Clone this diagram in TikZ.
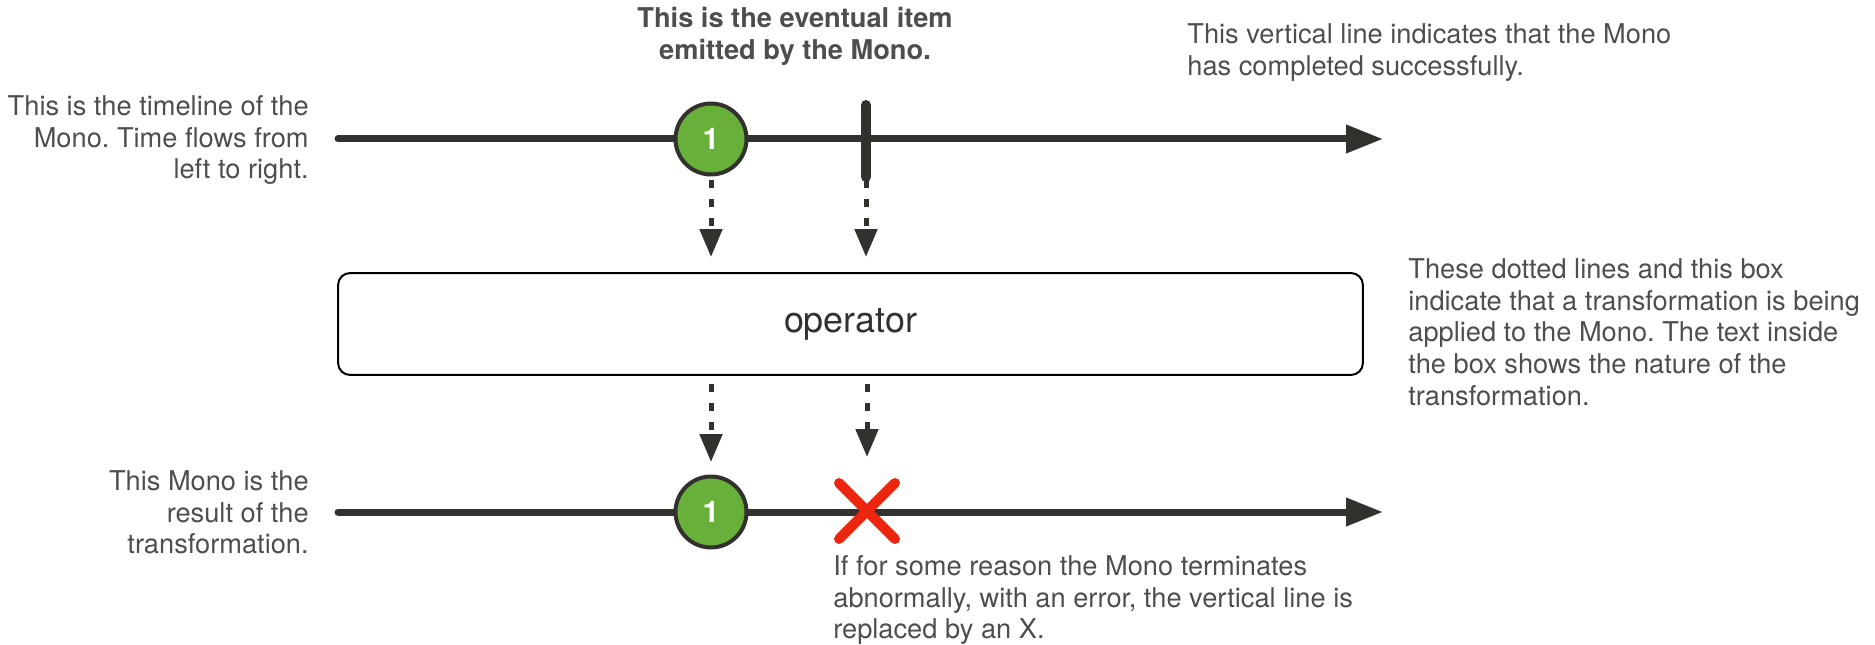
\documentclass[tikz,border=0pt]{standalone}
\usepackage{fontspec}
\setmainfont{TeX Gyre Heros}
\frenchspacing
\usetikzlibrary{arrows.meta, shapes.misc, positioning}
\definecolor{linegray}{RGB}{51,49,46}
\definecolor{notegray}{RGB}{78,78,78}
\definecolor{itemgreen}{RGB}{104,176,58}
\definecolor{errred}{RGB}{236,38,14}
\tikzstyle{timeline} = [line width=0.14cm, draw=linegray, line cap=round, -{Triangle[length=0.74cm, width=0.54cm]}]
\tikzstyle{item} = [circle, draw=linegray, fill=itemgreen, line width=0.08cm, minimum size=1.42cm, inner sep=0pt, text=white, font=\fontsize{17}{17}\selectfont\bfseries]
\tikzstyle{complete} = [line width=0.2cm, draw=linegray, line cap=round]
\tikzstyle{failure} = [cross out, draw=errred, line width=0.2cm, line cap=round, minimum size=0.92cm, inner sep=0pt]
\tikzstyle{opbox} = [rectangle, draw=black, line width=0.04cm, rounded corners=0.24cm, minimum width=20.5cm, minimum height=2.04cm, text=linegray, font=\fontsize{20.4}{20.4}\selectfont]
\tikzstyle{flow} = [line width=0.1cm, draw=linegray, dash pattern=on 0.16cm off 0.22cm, -{Triangle[length=0.56cm, width=0.44cm]}]
\tikzstyle{note} = [inner sep=0pt, text=notegray, font=\fontsize{15.5}{18.1}\selectfont]

\begin{document}
\begin{tikzpicture}[x=0.02cm, y=-0.02cm]
    \useasboundingbox (0,0) rectangle (1875,645);

    % Source timeline
    \coordinate (src_start) at (338,139);
    \coordinate (src_end) at (1383,139);
    \draw [timeline] (src_start) -- (src_end);
    \node (src_item) [item] at (711,139) {1};
    \draw [complete] (866,105) coordinate (done_top) -- (866,177) coordinate (done);

    % Operator
    \node (op) [opbox] at (850.5,324) {operator};

    % Result timeline
    \coordinate (res_start) at (338,512);
    \coordinate (res_end) at (1383,512);
    \draw [timeline] (res_start) -- (res_end);
    \node (res_item) [item] at (711,512) {1};
    \node (error) [failure] at (867,511) {};

    % Dotted lines through the operator
    \draw [flow, shorten <=0.08cm, shorten >=0.3cm] (src_item.south) -- (src_item |- op.north);
    \draw [flow, shorten <=0.06cm, shorten >=0.3cm] (done) -- (done |- op.north);
    \draw [flow, shorten <=0.16cm, shorten >=0.25cm] (op.south -| res_item) -- (res_item.north);
    \draw [flow, shorten <=0.16cm, shorten >=0.52cm] (op.south -| error) -- (error.north);

    % Notes
    \node (src_note) [note, anchor=north east, align=right] at (309,95) {This is the timeline of the\\Mono. Time flows from\\left to right.};
    \node (item_note) [note, anchor=north, align=center, font=\fontsize{15.5}{18.1}\selectfont\bfseries] at (795,7) {This is the eventual item\\emitted by the Mono.};
    \node (done_note) [note, anchor=north west, align=left] at (1187,23) {This vertical line indicates that the Mono\\has completed successfully.};
    \node (op_note) [note, anchor=north west, align=left] at (1408,258) {These dotted lines and this box\\indicate that a transformation is being\\applied to the Mono. The text inside\\the box shows the nature of the\\transformation.};
    \node (res_note) [note, anchor=north east, align=right] at (309,470) {This Mono is the\\result of the\\transformation.};
    \node (error_note) [note, anchor=north west, align=left] at (833,555) {If for some reason the Mono terminates\\abnormally, with an error, the vertical line is\\replaced by an X.};

\end{tikzpicture}
\end{document}
